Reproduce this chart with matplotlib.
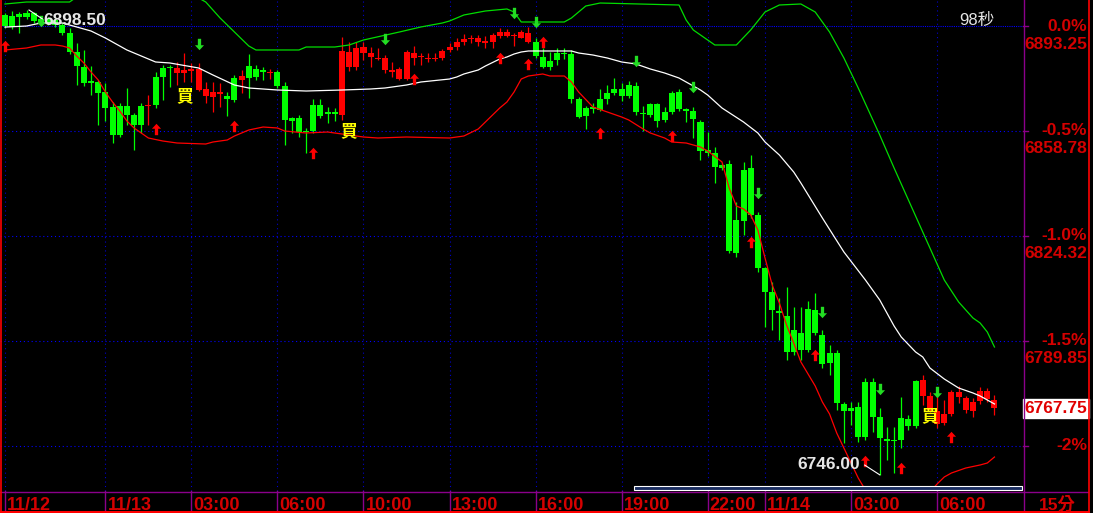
import numpy as np
import matplotlib
matplotlib.use("Agg")
import matplotlib.pyplot as plt
import matplotlib.transforms as mtransforms
from matplotlib.path import Path
from matplotlib.patches import Rectangle
from matplotlib.lines import Line2D

# --- data (15 min candles) ---
ref_close = 6893.25
last_price = 6767.75

opens = [6896.75, 6896.5, 6897.25, 6897.5, 6897.5, 6895.5, 6895.5, 6895.25, 6893.5, 6891.0,
         6884.75, 6879.75, 6875.25, 6875.0, 6871.5, 6866.75, 6867.0, 6867.0, 6864.0, 6867.0,
         6867.0, 6876.5, 6879.5, 6879.75, 6877.75, 6877.75, 6878.5, 6872.25, 6870.25, 6870.0,
         6871.0, 6870.25, 6876.25, 6875.5, 6880.0, 6879.25, 6878.5, 6877.75, 6878.25, 6873.5,
         6863.0, 6863.0, 6858.75, 6867.25, 6867.25, 6865.0, 6865.0, 6864.0, 6879.75, 6879.75,
         6884.5, 6883.0, 6882.5, 6878.75, 6878.25, 6875.75, 6875.75, 6882.75, 6883.0, 6882.5,
         6882.5, 6882.75, 6885.5, 6886.25, 6888.0, 6889.0, 6888.0, 6887.75, 6888.0, 6890.0,
         6890.0, 6890.0, 6889.25, 6888.0, 6888.0, 6883.0, 6881.75, 6884.5, 6884.5, 6884.0,
         6869.25, 6866.25, 6866.75, 6869.25, 6871.25, 6872.5, 6872.5, 6874.0, 6873.5, 6864.75,
         6867.75, 6867.75, 6865.0, 6871.25, 6871.5, 6866.0, 6865.25, 6861.75, 6852.5, 6851.5,
         6847.5, 6848.0, 6829.5, 6846.0, 6846.75, 6831.25, 6813.75, 6806.0, 6799.75, 6798.0,
         6793.5, 6792.5, 6800.25, 6800.0, 6791.75, 6786.0, 6786.0, 6769.25, 6767.75, 6768.25,
         6776.5, 6776.5, 6765.0, 6757.75, 6757.25, 6764.5, 6764.25, 6776.75, 6771.75, 6767.25,
         6762.5, 6763.0, 6766.0, 6771.5, 6767.25, 6767.0, 6770.25, 6770.75, 6767.75]
highs = [6897.5, 6898.25, 6897.75, 6898.5, 6898.0, 6896.25, 6896.25, 6896.0, 6894.25, 6892.5,
         6887.75, 6885.5, 6880.0, 6875.5, 6874.5, 6868.25, 6868.0, 6873.0, 6864.75, 6868.0,
         6870.5, 6878.25, 6880.5, 6880.5, 6881.5, 6884.5, 6881.0, 6881.0, 6875.0, 6875.0,
         6874.5, 6871.5, 6877.25, 6878.75, 6884.0, 6880.5, 6879.75, 6879.25, 6878.75, 6875.0,
         6863.5, 6864.0, 6859.75, 6869.25, 6869.25, 6866.75, 6866.25, 6889.75, 6888.0, 6888.0,
         6888.0, 6886.25, 6886.0, 6883.75, 6881.5, 6879.75, 6885.5, 6886.75, 6884.5, 6884.5,
         6884.5, 6885.75, 6887.75, 6889.25, 6890.75, 6890.25, 6890.25, 6890.0, 6891.0, 6892.5,
         6892.25, 6891.0, 6892.0, 6893.0, 6889.25, 6886.0, 6884.75, 6886.0, 6886.0, 6885.5,
         6870.0, 6867.0, 6868.0, 6872.5, 6874.0, 6876.25, 6874.5, 6875.25, 6875.0, 6867.0,
         6868.0, 6868.0, 6866.75, 6872.0, 6872.5, 6866.25, 6866.75, 6862.5, 6858.5, 6853.5,
         6848.25, 6849.25, 6835.5, 6848.5, 6851.0, 6832.25, 6814.0, 6809.25, 6804.0, 6807.5,
         6801.0, 6801.0, 6803.0, 6805.5, 6793.5, 6788.5, 6786.75, 6769.75, 6769.75, 6769.75,
         6777.75, 6777.75, 6767.75, 6761.5, 6761.5, 6771.5, 6765.5, 6777.0, 6778.75, 6773.0,
         6773.0, 6770.5, 6773.75, 6775.0, 6771.75, 6771.0, 6774.75, 6774.5, 6772.0]
lows = [6892.5, 6892.25, 6891.0, 6895.5, 6894.25, 6894.0, 6893.5, 6893.0, 6890.25, 6884.0,
        6874.0, 6873.5, 6870.5, 6860.75, 6862.0, 6854.75, 6856.75, 6860.75, 6852.5, 6858.0,
        6860.75, 6866.25, 6869.0, 6873.25, 6874.0, 6875.0, 6875.0, 6872.0, 6868.0, 6865.0,
        6866.75, 6863.75, 6868.25, 6871.25, 6869.5, 6875.5, 6875.5, 6875.75, 6873.0, 6854.25,
        6858.0, 6856.75, 6851.5, 6858.0, 6863.0, 6861.5, 6862.0, 6862.5, 6878.5, 6878.75,
        6882.0, 6879.75, 6882.0, 6877.75, 6876.5, 6875.5, 6875.5, 6880.5, 6880.5, 6881.5,
        6881.75, 6882.0, 6884.75, 6885.5, 6887.0, 6887.75, 6886.75, 6886.0, 6886.0, 6889.25,
        6889.75, 6886.75, 6889.25, 6887.75, 6882.75, 6879.5, 6878.75, 6880.5, 6882.5, 6868.0,
        6863.0, 6859.5, 6864.75, 6865.25, 6867.75, 6870.5, 6868.75, 6869.5, 6864.0, 6858.75,
        6863.5, 6860.0, 6861.75, 6864.25, 6865.25, 6861.75, 6856.5, 6849.25, 6850.5, 6841.75,
        6846.0, 6818.75, 6817.5, 6824.75, 6830.25, 6812.5, 6794.5, 6793.5, 6790.25, 6783.5,
        6785.25, 6783.5, 6786.25, 6791.75, 6781.0, 6778.75, 6767.25, 6756.25, 6762.25, 6756.75,
        6757.25, 6760.0, 6746.0, 6750.75, 6746.5, 6754.75, 6760.75, 6761.25, 6768.75, 6766.5,
        6761.25, 6762.25, 6765.25, 6769.5, 6766.25, 6765.0, 6769.25, 6769.75, 6765.5]
closes = [6893.25, 6893.0, 6896.25, 6896.25, 6895.0, 6894.5, 6894.25, 6893.5, 6891.0, 6884.75,
          6880.0, 6874.5, 6874.5, 6871.25, 6866.25, 6857.5, 6857.5, 6864.0, 6860.75, 6860.75,
          6867.25, 6867.25, 6876.5, 6879.5, 6879.5, 6878.75, 6879.25, 6879.25, 6872.5, 6871.5,
          6871.5, 6869.25, 6869.0, 6876.75, 6876.25, 6876.5, 6878.25, 6878.25, 6873.5, 6862.5,
          6862.0, 6858.5, 6858.5, 6858.75, 6863.75, 6864.25, 6864.25, 6885.0, 6884.75, 6886.0,
          6886.25, 6884.5, 6882.75, 6882.75, 6878.75, 6879.25, 6884.75, 6884.5, 6883.5, 6882.75,
          6882.75, 6885.0, 6886.25, 6888.0, 6889.0, 6889.25, 6889.25, 6888.25, 6890.25, 6891.25,
          6891.25, 6890.25, 6891.25, 6891.0, 6883.5, 6879.75, 6879.75, 6882.0, 6884.0, 6869.25,
          6863.5, 6863.75, 6866.0, 6865.75, 6869.25, 6871.25, 6870.25, 6870.25, 6865.0, 6864.25,
          6864.0, 6862.0, 6862.5, 6865.0, 6866.0, 6865.25, 6862.75, 6852.25, 6851.5, 6847.0,
          6846.75, 6819.5, 6818.75, 6829.25, 6831.25, 6813.75, 6806.0, 6800.0, 6799.0, 6786.25,
          6786.25, 6786.75, 6786.75, 6792.5, 6782.25, 6782.5, 6769.5, 6767.0, 6767.0, 6758.25,
          6758.25, 6765.0, 6758.0, 6757.0, 6757.0, 6757.25, 6762.0, 6762.0, 6777.0, 6771.75,
          6767.0, 6766.0, 6773.0, 6773.0, 6771.0, 6769.75, 6773.5, 6773.5, 6770.5]

# moving average (white)
ma_idx = [0, 3, 5, 8, 10, 12, 14, 17, 21, 23, 27, 29, 32, 34, 38, 42, 47, 51, 53, 56, 58, 62,
          63, 64, 66, 67, 69, 70, 71, 72, 73, 79, 80, 82, 84, 86, 88, 90, 92, 94, 95, 97, 98,
          100, 103, 105, 106, 108, 110, 111, 114, 117, 120, 122, 124, 125, 127, 128, 129, 131,
          133, 135, 136, 138]
ma_val = [6892.9, 6893.25, 6894.24, 6894.24, 6892.93, 6891.61, 6889.31, 6885.38, 6881.44,
          6881.11, 6879.47, 6877.17, 6873.88, 6872.9, 6872.24, 6871.91, 6872.24, 6872.57,
          6872.9, 6873.88, 6874.87, 6875.85, 6876.51, 6877.5, 6878.81, 6880.12, 6882.42,
          6883.08, 6884.06, 6884.72, 6885.05, 6885.05, 6884.39, 6883.73, 6882.75, 6881.44,
          6880.78, 6879.14, 6877.82, 6876.18, 6874.87, 6872.24, 6870.6, 6866.33, 6861.74,
          6858.13, 6855.17, 6850.9, 6845.32, 6841.71, 6830.22, 6819.06, 6809.87, 6803.3,
          6794.76, 6791.15, 6786.23, 6784.59, 6780.97, 6777.36, 6774.41, 6772.77, 6771.78,
          6769.16]

# upper band (green)
upper_idx = [0, 3, 9, 10, 13, 20, 25, 28, 30, 32, 34, 35, 41, 42, 46, 48, 50, 55, 58, 61, 62,
             64, 67, 70, 71, 72, 78, 79, 81, 83, 94, 95, 96, 98, 99, 102, 104, 106, 108, 111,
             113, 115, 117, 119, 122, 124, 126, 128, 131, 133, 135, 136, 137, 138]
upper_val = [6900.48, 6901.13, 6901.13, 6902.77, 6905.73, 6908.36, 6905.07, 6901.13, 6895.88,
             6891.28, 6886.69, 6885.38, 6885.38, 6886.36, 6886.36, 6887.02, 6888.66, 6891.28,
             6892.93, 6894.24, 6894.9, 6896.87, 6898.18, 6898.84, 6897.85, 6894.57, 6894.57,
             6895.88, 6899.82, 6900.8, 6900.15, 6895.22, 6891.94, 6888.66, 6887.02, 6887.02,
             6891.94, 6897.85, 6900.15, 6900.48, 6897.85, 6891.28, 6882.75, 6872.9, 6857.47,
             6846.64, 6836.13, 6825.62, 6809.87, 6802.65, 6797.39, 6795.75, 6792.79, 6787.87]

# lower band (red)
lower_idx = [0, 3, 5, 7, 8, 9, 10, 11, 12, 13, 14, 15, 16, 17, 18, 20, 22, 24, 28, 29, 31, 32,
             34, 36, 38, 39, 42, 45, 48, 50, 52, 56, 62, 64, 66, 67, 69, 70, 71, 72, 73, 75, 76,
             78, 79, 80, 82, 84, 86, 87, 89, 90, 92, 93, 95, 97, 98, 100, 101, 102, 103, 104,
             105, 106, 107, 108, 109, 110, 111, 113, 114, 115, 116, 117, 118, 119, 120, 121,
             123, 126, 128, 129, 130, 131, 132, 134, 136, 137, 138]
lower_val = [6885.38, 6886.03, 6887.02, 6887.02, 6886.69, 6886.03, 6883.4, 6881.11, 6878.15,
             6875.53, 6871.59, 6868.3, 6865.35, 6862.07, 6859.77, 6856.48, 6855.5, 6854.84,
             6854.51, 6855.17, 6855.83, 6857.14, 6859.11, 6860.09, 6859.77, 6858.78, 6858.13,
             6858.45, 6857.47, 6856.81, 6856.48, 6856.81, 6856.48, 6857.14, 6859.44, 6861.74,
             6866.33, 6868.3, 6871.59, 6875.85, 6876.84, 6877.5, 6876.84, 6876.84, 6874.87,
             6871.59, 6866.66, 6865.02, 6863.38, 6862.39, 6859.44, 6858.13, 6856.48, 6855.17,
             6854.84, 6853.53, 6852.22, 6848.61, 6840.07, 6834.16, 6833.18, 6831.21, 6826.28,
             6817.09, 6808.23, 6802.32, 6795.09, 6789.18, 6782.95, 6775.07, 6769.81, 6765.87,
             6759.63, 6754.71, 6749.78, 6744.86, 6740.92, 6737.64, 6734.35, 6733.7, 6736.98,
             6740.26, 6742.89, 6745.19, 6746.5, 6748.14, 6749.13, 6749.78, 6751.75]

# signal arrows and buy marks
buy_arrow_idx = [0, 21, 32, 43, 57, 69, 73, 75, 83, 93, 104, 113, 120, 125, 132]
buy_arrow_val = [6886.69, 6859.6, 6860.26, 6851.72, 6875.85, 6882.91, 6880.78, 6887.84,
                 6858.13, 6857.14, 6822.5, 6785.08, 6750.28, 6748.3, 6758.16]
sell_arrow_idx = [5, 27, 53, 71, 74, 88, 96, 105, 114, 122, 130]
sell_arrow_val = [6894.9, 6887.34, 6888.99, 6897.52, 6894.57, 6881.6, 6873.23, 6838.59,
                  6799.52, 6773.92, 6772.93]
buy_mark_idx = [25, 48, 129]
buy_mark_val = [6870.25, 6858.75, 6765.25]

tick_idx = [0, 14, 26, 38, 50, 62, 74, 86, 98, 106, 118, 130]
tick_labels = ['11/12', '11/13', '03:00', '06:00', '10:00', '13:00', '16:00', '19:00',
               '22:00', '11/14', '03:00', '06:00']
pct_levels = [0.0, -0.5, -1.0, -1.5, -2.0]
pct_labels = ['0.0%', '-0.5%', '-1.0%', '-1.5%', '-2%']
countdown = '98秒'
period = '15分'

# --- styles ---
RED = '#ff0000'
GREEN = '#00ff00'
LBL_RED = '#d40000'
PURPLE = '#8b008b'
FONT = 'Liberation Sans'
CJK = ['Liberation Sans', 'Noto Sans CJK TC']

W, H = 1093, 513
fig = plt.figure(figsize=(W / 100, H / 100), dpi=100, facecolor='black')
ax = fig.add_axes([0, 22 / H, 1023 / W, 491 / H])
ax.set_facecolor('black')
ax.set_xlim(-0.697, 141.98)
ax.set_ylim(6740.59, 6901.79)
ax.set_xticks([])
ax.set_yticks([])
for s in ax.spines.values():
    s.set_visible(False)

# grid
for pct in pct_levels:
    y = ref_close * (1 + pct / 100)
    ls = (0, (1, 1)) if pct == 0 else (0, (1, 2.5))
    ax.axhline(y, color='#0000ff', lw=0.8, ls=ls, zorder=1)
for t in tick_idx:
    ax.axvline(t, color='#0000cc', lw=0.8, ls=(0, (1, 3)), zorder=1)

# candles
o = np.array(opens)
c = np.array(closes)
h = np.array(highs)
l = np.array(lows)
x = np.arange(len(o))
col = np.where(c >= o, RED, GREEN)
ax.vlines(x, l, h, colors=col, linewidth=0.9, zorder=3)
body_bottom = np.minimum(o, c)
body_h = np.maximum(np.abs(c - o), 0.4)
ax.bar(x, body_h, width=0.84, bottom=body_bottom, color=col, linewidth=0, zorder=4)

# indicator lines
ax.plot(upper_idx, upper_val, color='#00dd00', lw=0.9, zorder=5)
ax.plot(lower_idx, lower_val, color=RED, lw=0.9, zorder=5)
ax.plot(ma_idx, ma_val, color='white', lw=0.9, zorder=5)

# arrows
up_path = Path([(0, 4.5), (3.6, 0.6), (1.3, 0.6), (1.3, -4.5), (-1.3, -4.5),
                (-1.3, 0.6), (-3.6, 0.6), (0, 4.5)], closed=True)
down_path = Path([(vx, -vy) for vx, vy in up_path.vertices], closed=True)
ax.plot(buy_arrow_idx, buy_arrow_val, ls='none', marker=up_path, markersize=8.2,
        color=RED, markeredgewidth=0, zorder=6)
ax.plot(sell_arrow_idx, sell_arrow_val, ls='none', marker=down_path, markersize=8.2,
        color='#22dd22', markeredgewidth=0, zorder=6)
for bi, bv in zip(buy_mark_idx, buy_mark_val):
    ax.text(bi, bv, '買', color='#ffff00', fontsize=12, fontweight='bold',
            family='Noto Sans CJK TC', ha='center', va='center', zorder=7)

# high / low labels
hi_i = int(np.argmax(h))
lo_i = int(np.argmin(l))
ax.plot([hi_i + 0.35, hi_i + 2.2], [h[hi_i], h[hi_i] - 2.9], color='white', lw=0.8, zorder=7)
ax.text(hi_i + 2.4, h[hi_i] - 3.3, f'{h[hi_i]:.2f}', color='#e6e6e6', fontsize=12.5,
        fontweight='bold', family=FONT, ha='left', va='center', zorder=8)
ax.plot([lo_i - 2.1, lo_i], [l[lo_i] + 3.1, l[lo_i] - 0.1], color='white', lw=0.8, zorder=7)
ax.text(lo_i - 2.8, l[lo_i] + 3.45, f'{l[lo_i]:.2f}', color='#e6e6e6', fontsize=12.5,
        fontweight='bold', family=FONT, ha='right', va='center', zorder=8)

ax.text(995 / 1023, (491 - 20) / 491, countdown, transform=ax.transAxes, color='#e6e6e6',
        fontsize=12, family=CJK, ha='right', va='center')

# right price axis
trans_r = mtransforms.blended_transform_factory(ax.transAxes, ax.transData)
trans_r2 = mtransforms.offset_copy(trans_r, fig=fig, y=-18, units='dots')
xr = 1087 / 1023
for k, pct in enumerate(pct_levels):
    y = ref_close * (1 + pct / 100)
    ax.text(xr, y, pct_labels[k], transform=trans_r, color=LBL_RED, fontsize=12.5,
            fontweight='bold', family=FONT, ha='right', va='center', clip_on=False)
    if k < 4:
        ax.text(xr, y, f'{y:.2f}', transform=trans_r2, color=LBL_RED, fontsize=12.5,
                fontweight='bold', family=FONT, ha='right', va='center', clip_on=False)
    ax.plot([1.0, 1.005], [y, y], transform=trans_r, color=PURPLE, lw=1, clip_on=False)
ax.text(xr, last_price, f'{last_price:.2f}', transform=trans_r, color='#e00000',
        fontsize=12.5, fontweight='bold', family=FONT, ha='right', va='center',
        clip_on=False, zorder=9,
        bbox=dict(boxstyle='square,pad=0.1', facecolor='white', edgecolor='white'))

# time axis
trans_b = ax.get_xaxis_transform()
for t, lab in zip(tick_idx, tick_labels):
    ax.plot([t, t], [0, -20 / 491], transform=trans_b, color=PURPLE, lw=1, clip_on=False)
    ax.text(t + 0.3, -14 / 491, lab, transform=trans_b, color=LBL_RED, fontsize=13,
            fontweight='bold', family=FONT, ha='left', va='center', clip_on=False)
fig.text(1057 / W, (H - 504) / H, period, color=LBL_RED, fontsize=12.5, fontweight='bold',
         family=CJK, ha='center', va='center')

# scroll bar
ax.add_patch(Rectangle((634 / 1023, 1 / 491), 388 / 1023, 4 / 491, transform=ax.transAxes,
                       facecolor='#1a2d60', edgecolor='white', lw=0.8, clip_on=False, zorder=9))

# frame lines
fig.add_artist(Line2D([0, 1088 / W], [(H - 491.5) / H] * 2, color=PURPLE, lw=1))
fig.add_artist(Line2D([1023.5 / W] * 2, [1.5 / H, 1], color=PURPLE, lw=1))
fig.add_artist(Line2D([0.8 / W] * 2, [0, 1], color=RED, lw=1.2))
fig.add_artist(Line2D([1088.5 / W] * 2, [0, 1], color=RED, lw=1.2))
fig.add_artist(Line2D([0, 1089 / W], [1.2 / H] * 2, color=RED, lw=1.5))

fig.savefig('out.png', dpi=100, facecolor='black')
